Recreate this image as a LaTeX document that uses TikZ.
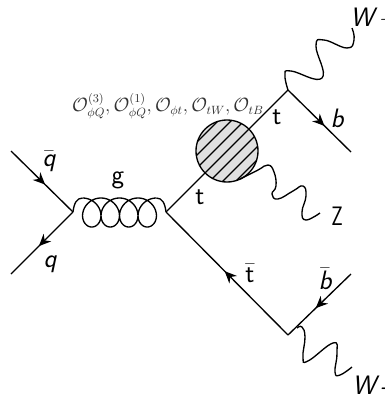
\documentclass[tikz,border=0pt]{standalone}
\usepackage{amsmath,amssymb}
\usetikzlibrary{arrows.meta,calc,decorations.markings}
\tikzset{
  line/.style={line width=1pt},
  fermion/.style={line,postaction={decorate},decoration={markings,mark=at position #1 with {\arrow{Stealth[length=9pt,width=8pt]}}}},
  fermion/.default=.55,
  lbl/.style={font=\fontsize{20}{22}\selectfont\sffamily},
  lblit/.style={font=\fontsize{20}{22}\selectfont\sffamily\itshape}
}
\begin{document}
\begin{tikzpicture}[x=.75pt,y=-.75pt,>=Stealth]
\useasboundingbox (0,0) rectangle (385,394);
\coordinate (qbarin) at (11,151);\coordinate (qout) at (11,274);
\coordinate (vg) at (73,212);\coordinate (vt) at (166,212);
\coordinate (vtop) at (288,90);\coordinate (vbot) at (288,335);
\coordinate (bout) at (351,152);\coordinate (bbarin) at (351,274);
\coordinate (blob) at (227,151);
\draw[fermion] (qbarin)--(vg);
\draw[fermion] (vg)--(qout);
\draw[fermion=.52] (vbot)--(vt);
\draw[fermion=.58] (vtop)--(bout);
\draw[fermion=.56] (bbarin)--(vbot);
\draw[line] (vt)--(vtop);
% gluon
\draw[line] (vg) .. controls (74,203) and (77,198) .. (82.5,198);
\draw[line] plot[domain=0:1440,samples=240] ({82.5+\x/360*18.5+13.5*sin(\x)},{212.5-14.5*cos(\x)});
\draw[line] (156.5,198) .. controls (162,198) and (165,203) .. (vt);
% hatched blob
\fill[gray!25] (blob) circle(31);
\begin{scope}
\clip (blob) circle(31);
\foreach \s in {-3,...,3}
  \draw[line] ($(blob)+(\s*6.5,\s*6.5)+(-50,50)$)--($(blob)+(\s*6.5,\s*6.5)+(50,-50)$);
\end{scope}
\draw[line] (blob) circle(31);
% bosons
\draw[line] plot[smooth,tension=.8] coordinates {(288,90) (285,75) (291,71) (322,78) (316,46) (324,40) (347,48) (354,40) (352,28)};
\draw[line] plot[smooth,tension=.8] coordinates {(240,179) (258,170) (268,165) (274,172) (276,186) (272,194) (278,199) (293,191) (303,186) (306,196) (302,212) (306,220) (320,213)};
\draw[line] plot[smooth,tension=.8] coordinates {(297,328) (302,327) (305,337) (303,357) (308,361) (333,343) (337,353) (335,372) (340,375) (352,367)};
% labels
\node[lblit] (lqbar) at (49,161){$\bar{\text{q}}$};
\node[lblit] (lq) at (50,264){q};
\node[lbl] (lg) at (118,180){g};
\node[lbl] (ltl) at (200,197){t};
\node[lbl] (ltu) at (277,117){t};
\node[lblit] (lb) at (337,118){b};
\node[lbl,xscale=.75] (lZ) at (337,216){Z};
\node[lbl] (ltbar) at (250,273){$\bar{\text{t}}$};
\node[lblit] (lbbar) at (325,279){$\bar{\text{b}}$};
\node[lblit,right,inner sep=0] (lwp) at (350,18){W\,+};
\node[lblit,right,inner sep=0] (lwm) at (352,385){W\,-};
\node[text=black!80,font=\fontsize{13.3}{15}\selectfont] (lops) at (168,106){$\mathcal{O}_{\phi Q}^{(3)},\mathcal{O}_{\phi Q}^{(1)},\mathcal{O}_{\phi t},\mathcal{O}_{tW},\mathcal{O}_{tB}$};
\end{tikzpicture}
\end{document}
